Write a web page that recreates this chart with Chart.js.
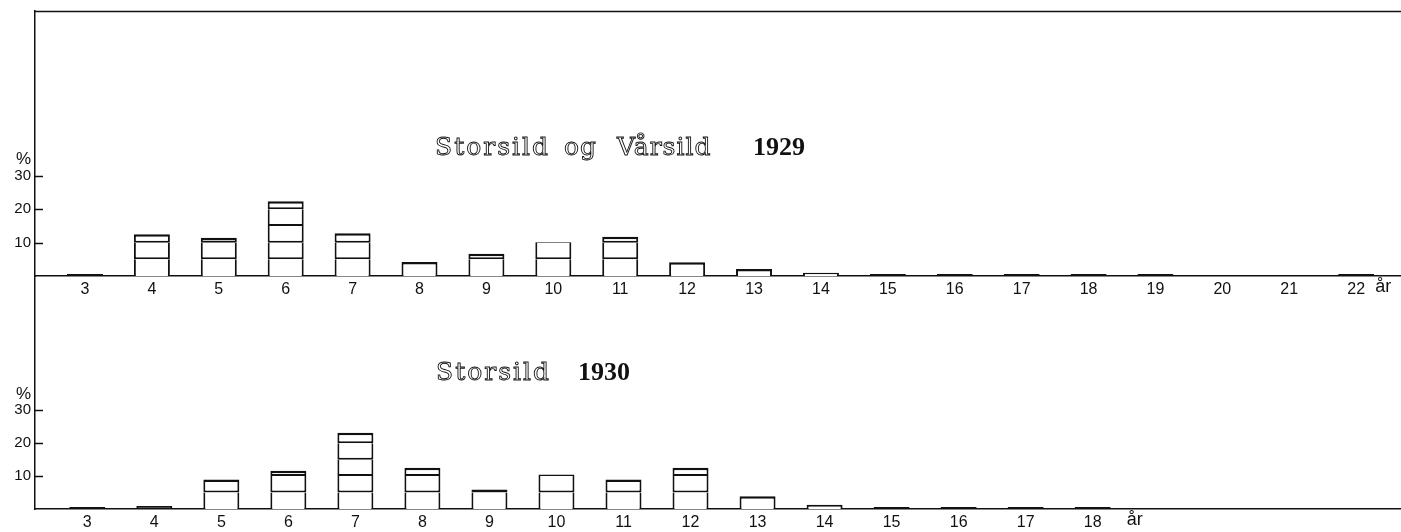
<!DOCTYPE html>
<html><head><meta charset="utf-8">
<script src="https://cdn.jsdelivr.net/npm/chart.js@4.4.0/dist/chart.umd.min.js"></script>
<style>
html,body{margin:0;padding:0;background:#fff;}
#wrap{position:relative;width:1401px;height:532px;overflow:hidden;background:#fff;}
#c1{position:absolute;left:0;top:0;}
#c2{position:absolute;left:0;top:276px;}
</style></head><body>
<div id="wrap">
<canvas id="c1" width="1401" height="300"></canvas>
<canvas id="c2" width="1401" height="256"></canvas>
</div>
<script>
// ---- data (age in years, percent of sample) ----
const ages1929 = [3,4,5,6,7,8,9,10,11,12,13,14,15,16,17,18,19,20,21,22];
const pct1929  = [0.2,12.5,11.5,22.4,12.8,4.2,6.7,10.2,11.8,4.1,2.1,1.0,0.4,0.3,0.2,0.2,0.2,0,0,0.3];
const ages1930 = [3,4,5,6,7,8,9,10,11,12,13,14,15,16,17,18];
const pct1930  = [0.1,0.9,9.0,11.6,23.2,12.5,5.9,10.5,9.0,12.5,3.9,1.3,0.2,0.6,0.3,0.2];
const yTickValues = [10,20,30];
const unitTickValue = 35;          // where the "%" unit label sits
const segmentSize = 5;             // bars are divided every 5 %
const segmentCount = 5;
const title1929 = ['Storsild','og','Vårsild','1929'];
const title1930 = ['Storsild','1930'];
const unitX = 'år';

const INK = '#111';

function segmentDatasets(ages, pct){
  const sets = [];
  for (let k = 0; k < segmentCount; k++){
    const data = ages.map((a,i)=>{
      const rest = pct[i] - segmentSize*k;
      if (rest <= 0) return {x:a, y:null};
      return {x:a, y:Math.min(segmentSize, rest)};
    });
    const isTop = (i)=> pct[i] - segmentSize*(k+1) <= 0;
    sets.push({
      data,
      backgroundColor:(ctx)=> pct[ctx.dataIndex] < 0.95 ? INK : '#fff',
      borderColor:INK,
      borderSkipped:false,
      inflateAmount:0,
      barThickness:36,
      minBarLength: k===0 ? 2 : 0,
      borderWidth:(ctx)=>({left:2,right:2,top:isTop(ctx.dataIndex)?2.5:0,bottom:k===0?0:2})
    });
  }
  return sets;
}

const decorPlugin = {
  id:'decor',
  afterDraw(chart, args, opts){
    const ctx = chart.ctx, ca = chart.chartArea;
    const y = chart.scales.y, x = chart.scales.x;
    ctx.save();
    ctx.strokeStyle = INK; ctx.lineWidth = 1.5;
    // inward tick marks on the y axis
    yTickValues.forEach(v=>{
      const py = Math.round(y.getPixelForValue(v))+0.5;
      ctx.beginPath(); ctx.moveTo(ca.left, py); ctx.lineTo(ca.left+8, py); ctx.stroke();
    });
    if (opts.topLine){
      ctx.beginPath(); ctx.moveTo(ca.left, ca.top+0.5); ctx.lineTo(ca.right, ca.top+0.5); ctx.stroke();
    }
    // unit after last age label
    ctx.fillStyle = INK;
    ctx.font = '18px "Liberation Sans", sans-serif';
    ctx.textBaseline = 'top'; ctx.textAlign = 'left';
    ctx.fillText(unitX, x.getPixelForValue(opts.lastAge) + opts.unitGap, x.top + 2);
    // title words
    opts.words.forEach(w=>{
      ctx.font = w.font;
      ctx.textBaseline = 'alphabetic';
      ctx.letterSpacing = w.spacing || '0px';
      if (w.outline){
        ctx.lineWidth = 0.9; ctx.strokeStyle = INK;
        ctx.strokeText(w.text, w.x, w.y);
      } else {
        ctx.fillStyle = INK; ctx.fillText(w.text, w.x, w.y);
      }
    });
    ctx.restore();
  }
};

function makeChart(id, ages, pct, o){
  return new Chart(document.getElementById(id), {
    type:'bar',
    data:{datasets:segmentDatasets(ages, pct)},
    plugins:[decorPlugin],
    options:{
      responsive:false, animation:false,
      layout:{padding:{top:o.padTop,left:0,right:0,bottom:0}},
      plugins:{legend:{display:false}, tooltip:{enabled:false}, title:{display:false},
        decor:{topLine:o.topLine, lastAge:ages[ages.length-1], unitGap:o.unitGap, words:o.words}},
      scales:{
        x:{type:'linear', stacked:true, min:o.xmin, max:o.xmax, offset:false,
          grid:{display:false, drawTicks:false}, border:{display:true,color:INK,width:1.5},
          afterBuildTicks:(s)=>{ s.ticks = ages.map(v=>({value:v})); },
          afterFit:(s)=>{ s.height = o.xh; s.paddingLeft = 0; s.paddingRight = 0; },
          ticks:{autoSkip:false, maxRotation:0, padding:4, color:INK,
            font:{family:'"Liberation Sans", sans-serif', size:16},
            callback:(v)=>String(v)}},
        y:{stacked:true, min:0, max:o.ymax,
          grid:{display:false, drawTicks:false}, border:{display:true,color:INK,width:1.5},
          afterBuildTicks:(s)=>{ s.ticks = yTickValues.concat([unitTickValue]).map(v=>({value:v})); },
          afterFit:(s)=>{ s.width = 35; s.paddingTop = 0; s.paddingBottom = 0; },
          ticks:{padding:4, color:INK,
            font:(c)=>({family:'"Liberation Sans", sans-serif', size: c.tick && c.tick.value===unitTickValue ? 17 : 15}),
            callback:(v)=> v===unitTickValue ? '%' : String(v)}}
      }
    }
  });
}

const wordFont = '25px "DejaVu Serif", serif';
const yearFont = 'bold 26px "Liberation Serif", serif';

makeChart('c1', ages1929, pct1929, {
  padTop:11, topLine:true, xmin:2.253, xmax:22.67, ymax:79.5, xh:24, unitGap:19,
  words:[
    {text:title1929[0], x:435, y:155, font:wordFont, outline:true, spacing:'2px'},
    {text:title1929[1], x:564, y:155, font:wordFont, outline:true, spacing:'1px'},
    {text:title1929[2], x:617, y:155, font:wordFont, outline:true, spacing:'1px'},
    {text:title1929[3], x:753, y:155, font:yearFont}
  ]
});
makeChart('c2', ages1930, pct1930, {
  padTop:0, topLine:false, xmin:2.22, xmax:22.6, ymax:70.8, xh:23, unitGap:34,
  words:[
    {text:title1930[0], x:436, y:104, font:wordFont, outline:true, spacing:'2px'},
    {text:title1930[1], x:578, y:104, font:yearFont}
  ]
});
</script>
</body></html>
